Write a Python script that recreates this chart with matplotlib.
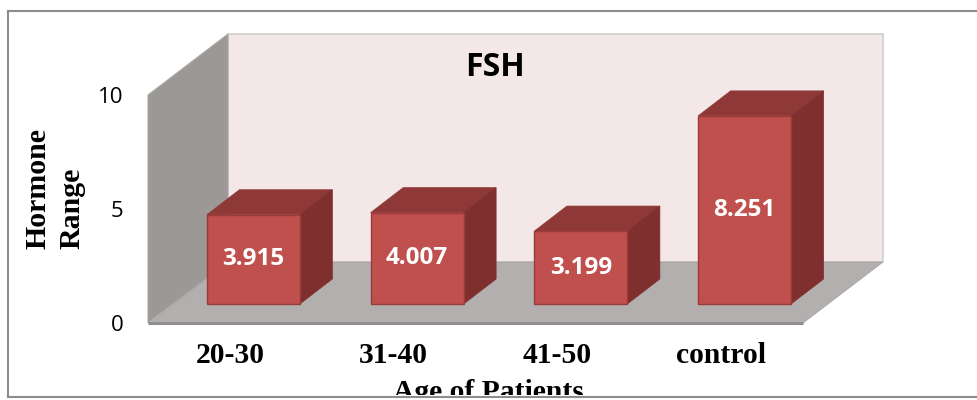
import matplotlib
matplotlib.use("Agg")
import matplotlib.pyplot as plt
from matplotlib.patches import Polygon, Rectangle
from matplotlib.transforms import Affine2D

categories = ["20-30", "31-40", "41-50", "control"]
values = [3.915, 4.007, 3.199, 8.251]
y_ticks = [0, 5, 10]
title = "FSH"
x_label = "Age of Patients"
y_label = "Hormone\nRange"

W, H = 977, 400
fig = plt.figure(figsize=(W / 100, H / 100), dpi=100, facecolor="white")
L, R, T, B = 148, 803, 95, 323
ax = fig.add_axes([L / W, (H - B) / H, (R - L) / W, (B - T) / H])
ax.set_xlim(-0.5, 3.5)
ax.set_ylim(0, 10)
ax.patch.set_visible(False)
for s in ax.spines.values():
    s.set_visible(False)

DX, DY = 80, 61            # wall depth in pixels
BX, BY = 23.5, 19          # bar front-plane offset
CX, CY = 32.5, 25          # bar depth
px_per_x = (R - L) / 4


def off(dx, dy):
    return ax.transData + Affine2D().translate(dx, dy)


def add_poly(points, **kw):
    # points: (data x, data y, pixel dx, pixel dy); converted via the axes scale
    pts = [(x + dx / px_per_x, y + dy / ((B - T) / 10)) for x, y, dx, dy in points]
    p = Polygon(pts, closed=True, clip_on=False, **kw)
    ax.add_patch(p)
    return p


xa, xb = -0.5, 3.5
# back wall
add_poly([(xa, 0, DX, DY), (xb, 0, DX, DY), (xb, 10, DX, DY), (xa, 10, DX, DY)],
         facecolor="#F4E7E7", edgecolor="#CFCFCF", linewidth=1.2, zorder=1)
# side wall
add_poly([(xa, 0, 0, 0), (xa, 0, DX, DY), (xa, 10, DX, DY), (xa, 10, 0, 0)],
         facecolor="#9C9896", edgecolor="#A8A8A8", linewidth=0.8, zorder=2)
# floor
add_poly([(xa, 0, 2, 0), (xb, 0, 0, 0), (xb, 0, DX, DY), (xa, 0, DX, DY)],
         facecolor="#B4AFAF", edgecolor="#A5A2A2", linewidth=0.6, zorder=2)
ax.plot([xa, xb], [0, 0], color="#8F8D8D", linewidth=2.2, clip_on=False, zorder=3,
        solid_capstyle="butt")

# bars
bar_w = 93 / px_per_x
positions = list(range(len(categories)))
for i, v in zip(positions, values):
    x0, x1 = i - bar_w / 2, i + bar_w / 2
    add_poly([(x0, v, BX, BY), (x1, v, BX, BY), (x1, v, BX + CX, BY + CY), (x0, v, BX + CX, BY + CY)],
             facecolor="#8E3937", edgecolor="#8E3937", linewidth=0.5, zorder=4)
    add_poly([(x1, 0, BX, BY), (x1, 0, BX + CX, BY + CY), (x1, v, BX + CX, BY + CY), (x1, v, BX, BY)],
             facecolor="#7F302E", edgecolor="#7F302E", linewidth=0.5, zorder=4)
ax.bar(positions, values, width=bar_w, color="#C0504D", edgecolor="#9B3B39", linewidth=1.0,
       transform=off(BX, BY), zorder=5, clip_on=False)
for i, v in zip(positions, values):
    ax.text(i, v / 2, f"{v:.3f}", transform=off(BX, BY), ha="center", va="center",
            color="white", fontsize=17.5, fontweight="bold", family="Open Sans", zorder=6)

# axes text
ax.set_xticks(positions)
ax.set_xticklabels(categories, family="Liberation Serif", fontweight="bold", fontsize=21.3)
ax.set_yticks(y_ticks)
ax.set_yticklabels([str(t) for t in y_ticks], family="Open Sans", fontsize=16)
ax.tick_params(axis="both", length=0)
ax.tick_params(axis="x", pad=14)
ax.tick_params(axis="y", pad=17.5)

ax.set_ylabel(y_label, family="Liberation Serif", fontweight="bold", fontsize=21.5,
              ha="left", multialignment="left", linespacing=1.33)
ax.yaxis.set_label_coords(-0.0955, (B - 249) / (B - T))

xl = fig.text(488 / W, (H - 400.5) / H, x_label, family="Liberation Serif", fontweight="bold",
              fontsize=21.3, ha="center", va="baseline")
xl.set_clip_path(Rectangle((0, H - 395), W, 395, transform=None))
xl.set_clip_on(True)

fig.text(495.5 / W, (H - 76) / H, title, family="Open Sans", fontweight="bold", fontsize=23,
         ha="center", va="baseline", color="black")

# outer frame
frame = dict(color="#8C8C8C", linewidth=1.5, transform=fig.transFigure, zorder=10)
for xs, ys in [((7.5, 977), (10.5, 10.5)), ((7.5, 977), (396.5, 396.5)), ((7.5, 7.5), (10.5, 396.5))]:
    fig.add_artist(plt.Line2D([x / W for x in xs], [(H - y) / H for y in ys], **frame))

fig.savefig("out.png", dpi=100)
